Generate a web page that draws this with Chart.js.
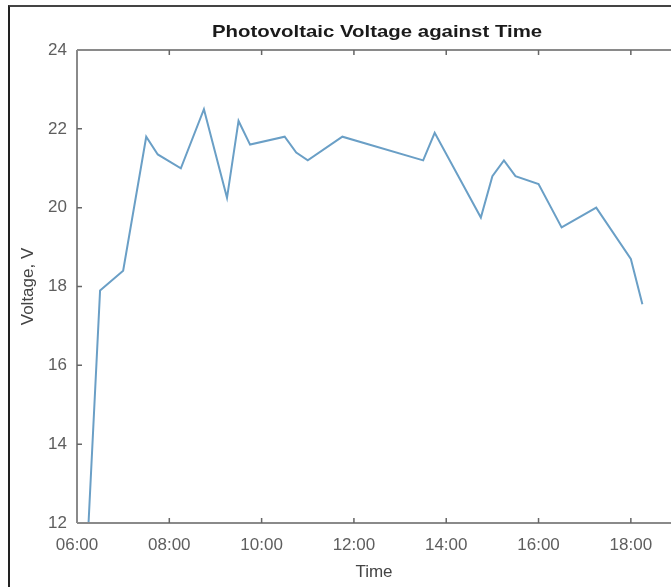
<!DOCTYPE html>
<html>
<head>
<meta charset="utf-8">
<script src="https://cdn.jsdelivr.net/npm/chart.js@4.4.1/dist/chart.umd.min.js"></script>
<style>
  html, body { margin: 0; padding: 0; background: #fff; }
  #wrap { position: relative; width: 671px; height: 587px; overflow: hidden; }
  #wrap::before {
    content: ''; position: absolute; left: 8px; top: 5px; right: -10px; bottom: -10px;
    border-left: 2px solid #222; border-top: 2px solid #444; pointer-events: none;
  }
  canvas { display: block; }
</style>
</head>
<body>
<div id="wrap"><canvas id="chart" width="671" height="587"></canvas></div>
<script>
// hours of the day (decimal) and measured PV voltage
const timeHours = [6.25, 6.5, 7.0, 7.5, 7.75, 8.25, 8.75, 9.25, 9.5, 9.75,
                   10.5, 10.75, 11.0, 11.75, 13.5, 13.75, 14.75, 15.0, 15.25, 15.5,
                   16.0, 16.5, 17.25, 18.0, 18.25];
const voltage = [12.0, 17.9, 18.4, 21.8, 21.35, 21.0, 22.5, 20.25, 22.2, 21.6,
                 21.8, 21.4, 21.2, 21.8, 21.2, 21.9, 19.75, 20.8, 21.2, 20.8,
                 20.6, 19.5, 20.0, 18.7, 17.55];
const xTicks = [6, 8, 10, 12, 14, 16, 18];
const yTicks = [12, 14, 16, 18, 20, 22, 24];

const points = timeHours.map((t, i) => ({ x: t, y: voltage[i] }));
const FONT = '"Liberation Sans", Arial, sans-serif';

function hhmm(v) {
    const h = Math.floor(v);
    const m = Math.round((v - h) * 60);
    return String(h).padStart(2, '0') + ':' + String(m).padStart(2, '0');
}

// MATLAB-like frame: axis lines plus inward tick marks, and the title over the plot
const frame = {
    id: 'frame',
    afterDraw(chart) {
        const ctx = chart.ctx;
        const a = chart.chartArea;
        const xs = chart.scales.x, ys = chart.scales.y;
        ctx.save();
        ctx.strokeStyle = '#8a8a8a';
        ctx.lineWidth = 2;
        ctx.beginPath();
        ctx.moveTo(a.left, a.top); ctx.lineTo(a.right + 2, a.top);
        ctx.moveTo(a.left, a.top); ctx.lineTo(a.left, a.bottom);
        ctx.moveTo(a.left, a.bottom); ctx.lineTo(a.right + 2, a.bottom);
        ctx.stroke();
        ctx.lineWidth = 1.5;
        ctx.strokeStyle = '#666';
        ctx.beginPath();
        xTicks.forEach(v => {
            const px = xs.getPixelForValue(v);
            if (v === xs.min) return;
            ctx.moveTo(px, a.bottom); ctx.lineTo(px, a.bottom - 5);
            ctx.moveTo(px, a.top); ctx.lineTo(px, a.top + 5);
        });
        yTicks.forEach(v => {
            const py = ys.getPixelForValue(v);
            if (v === ys.min || v === ys.max) return;
            ctx.moveTo(a.left, py); ctx.lineTo(a.left + 5, py);
        });
        ctx.stroke();
        // title, slightly widened like the source image
        ctx.fillStyle = '#1a1a1a';
        ctx.font = 'bold 17px ' + FONT;
        ctx.textAlign = 'center';
        ctx.textBaseline = 'middle';
        ctx.translate(377, 32);
        ctx.scale(1.2, 1);
        ctx.fillText('Photovoltaic Voltage against Time', 0, 0);
        ctx.restore();
    }
};

new Chart(document.getElementById('chart'), {
    type: 'line',
    data: {
        datasets: [{
            label: 'Voltage',
            data: points,
            borderColor: '#6a9fc6',
            borderWidth: 2,
            pointRadius: 0,
            tension: 0,
            fill: false
        }]
    },
    options: {
        responsive: false,
        animation: false,
        layout: { padding: { top: 50, left: 0, right: 0, bottom: 0 } },
        plugins: { legend: { display: false }, tooltip: { enabled: false } },
        scales: {
            x: {
                type: 'linear',
                min: 6,
                max: 18.87,
                afterBuildTicks: s => { s.ticks = xTicks.map(v => ({ value: v })); },
                afterFit: s => { s.height = 64; },
                grid: { display: false, drawTicks: false },
                border: { display: false },
                ticks: {
                    autoSkip: false, maxRotation: 0, padding: 12,
                    color: '#5e5e5e',
                    font: { family: FONT, size: 17 },
                    callback: v => hhmm(v)
                },
                title: {
                    display: true, text: 'Time', color: '#444',
                    font: { family: FONT, size: 17 },
                    padding: { top: 0, bottom: 4 }
                }
            },
            y: {
                min: 12,
                max: 24,
                afterBuildTicks: s => { s.ticks = yTicks.map(v => ({ value: v })); },
                afterFit: s => { s.width = 77; },
                grid: { display: false, drawTicks: false },
                border: { display: false },
                ticks: {
                    padding: 10,
                    color: '#5e5e5e',
                    font: { family: FONT, size: 17 }
                },
                title: {
                    display: true, text: 'Voltage, V', color: '#444',
                    font: { family: FONT, size: 17 },
                    padding: { top: 18, bottom: 0 }
                }
            }
        }
    },
    plugins: [frame]
});
</script>
</body>
</html>
